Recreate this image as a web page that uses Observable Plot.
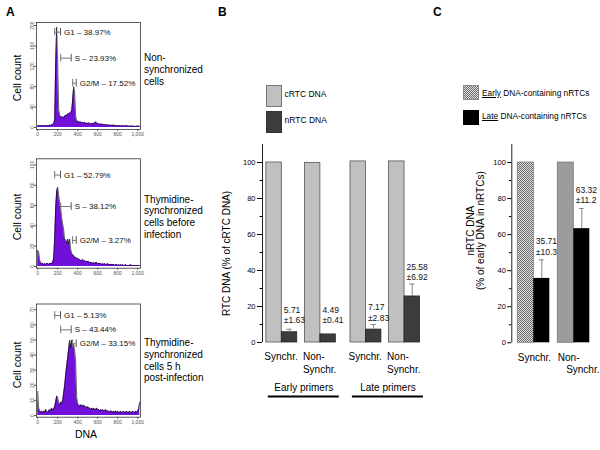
<!DOCTYPE html>
<html><head><meta charset="utf-8">
<script src="https://cdn.jsdelivr.net/npm/d3@7"></script>
<script src="https://cdn.jsdelivr.net/npm/@observablehq/plot@0.6"></script>
<style>
body{margin:0;background:#fff;}
#root{position:relative;width:600px;height:450px;overflow:hidden;background:#fff;font-family:"Liberation Sans",Arial,sans-serif;color:#000;}
#root svg{position:absolute;left:0;top:0;}
.t{position:absolute;white-space:nowrap;}
.box{position:absolute;box-sizing:border-box;}
</style></head><body><div id="root"></div>
<script>
// ---------------- DATA ----------------
const dnaChannels = [0,10,20,30,40,50,60,70,80,90,100,110,120,130,140,150,160,170,180,190,200,210,220,230,240,250,260,270,280,290,300,310,320,330,340,350,360,370,380,390,400,410,420,430,440,450,460,470,480,490,500,510,520,530,540,550,560,570,580,590,600,610,620,630,640,650,660,670,680,690,700,710,720,730,740,750,760,770,780,790,800,810,820,830,840,850,860,870,880,890,900,910,920,930,940,950,960,970,980,990,1000,1010,1020];
const countsNonSync = [3,4,3,4,3,4,3,4,3,4, 4,3,5,4,5,6,8,14,127,197, 127,35,24,21,20,21,19,22,24,23, 27,26,28,30,32,55,80,68,22,12, 12,11,10,11,9,10,9,10,8,9, 8,9,8,7,8,7,8,9,11,9, 8,7,7,6,7,6,6,5,6,5, 5,5,4,5,4,4,5,4,4,3, 4,3,4,3,3,4,3,3,3,4, 3,3,2,3,3,2,3,2,2,3, 2,3,2];
const countsThyBefore = [16,14,6,4,3,3,2,3,2,3, 3,2,3,3,3,4,8,28,58,74, 78,70,62,57,48,42,36,27,26,23, 27,22,27,17,13,11,11,9,9,8, 8,7,7,6,6,7,5,6,5,5, 5,5,4,4,4,3,4,3,4,4, 3,3,3,3,2,3,2,3,2,2, 3,2,2,2,2,2,2,1,2,2, 1,2,1,2,1,2,1,1,2,1, 1,1,1,2,1,1,1,1,1,1, 1,1,1];
const countsThyAfter = [16,5,3,2,3,2,3,2,4,3, 2,3,4,3,5,4,4,6,9,13, 12,8,7,9,8,10,15,20,27,33, 38,44,50,45,50,46,47,43,35,12, 8,7,6,7,7,6,7,6,6,5, 6,5,5,4,5,4,5,4,4,5, 4,4,3,4,3,4,3,3,4,3, 3,3,2,3,3,2,3,2,3,2, 3,2,2,3,2,2,3,2,2,3, 2,2,3,2,2,3,2,2,3,2, 3,4,9];
const gateNames = ["G1", "S", "G2/M"];
const gateStart = [170, 230, 350];
const gateEnd = [228, 335, 385];
const gatePctNonSync = [38.97, 23.93, 17.52];
const gatePctBefore = [52.79, 38.12, 3.27];
const gatePctAfter = [5.13, 43.44, 33.15];
const histTicksX = [0, 200, 400, 600, 800, 1000];

const primerSets = ["Early primers", "Late primers"];
const conditions = ["Synchr.", "Non-\nSynchr."];
const cRTC = [100, 99.8, 100.6, 100.6];      // order: early synchr, early non, late synchr, late non
const nRTC = [5.71, 4.49, 7.17, 25.58];
const nRTCsd = [1.63, 0.41, 2.83, 6.92];

const cEarly = [100, 100];
const cLate = [35.71, 63.32];
const cLateSd = [10.3, 11.2];

const yTicksPct = [0, 20, 40, 60, 80, 100];
const yMinorPct = [10, 30, 50, 70, 90];

// ---------------- LAYOUT ----------------
const W = 600, H = 450;
const FONT = '"Liberation Sans", Arial, sans-serif';
const root = document.getElementById("root");
const baseStyle = {background: "transparent", fontFamily: FONT, overflow: "visible"};
function add(svg) { root.appendChild(svg); return svg; }
function text(html, o) {
  const d = document.createElement("div");
  d.className = "t";
  d.innerHTML = html;
  const size = o.size || 10, lh = o.lh || size * 1.17;
  d.style.fontSize = size + "px";
  d.style.lineHeight = lh + "px";
  if (o.bold) d.style.fontWeight = "bold";
  d.style.left = o.x + "px";
  if (o.rotate) {
    d.style.top = o.y + "px";
    d.style.transform = "translate(-50%,-50%) rotate(-90deg)";
    d.style.textAlign = "center";
  } else {
    d.style.top = (o.y - lh / 2) + "px";
    if (o.anchor === "middle") d.style.transform = "translateX(-50%)";
  }
  root.appendChild(d);
}
function box(x, y, w, h, bg, border) {
  const d = document.createElement("div");
  d.className = "box";
  Object.assign(d.style, {left: x + "px", top: y + "px", width: w + "px", height: h + "px", background: bg, border: border});
  root.appendChild(d);
}

// ---------------- PANEL A: histograms ----------------
const histPanels = [
  {counts: countsNonSync, pct: gatePctNonSync, top: 22, bottom: 129, yDomain: [-4, 206], yTicks: [0, 40, 80, 120, 160, 200], gateY: [187, 136, 87]},
  {counts: countsThyBefore, pct: gatePctBefore, top: 158.3, bottom: 267.7, yDomain: [-1.7, 106], yTicks: [0, 20, 40, 60, 80, 100], gateY: [90, 59, 25.6]},
  {counts: countsThyAfter, pct: gatePctAfter, top: 303.5, bottom: 416.7, yDomain: [-1.1, 73.8], yTicks: [0, 10, 20, 30, 40, 50, 60, 70], gateY: [66.2, 56.7, 47.5]}
];
histPanels.forEach(pn => {
  const rows = dnaChannels.map((x, i) => ({x, c: pn.counts[i]}));
  const k = (pn.bottom - pn.top) / (pn.yDomain[1] - pn.yDomain[0]);
  const h = 3.8 / k;
  const gates = gateNames.map((g, i) => ({x1: gateStart[i], x2: gateEnd[i], y: pn.gateY[i], label: `${g} – ${pn.pct[i].toFixed(2)}%`}));
  add(Plot.plot({
    width: W, height: H,
    marginLeft: 36, marginRight: W - 140, marginTop: pn.top, marginBottom: H - pn.bottom,
    style: baseStyle,
    x: {domain: [-12, 1028]},
    y: {domain: pn.yDomain},
    marks: [
      Plot.areaY(rows, {x: "x", y1: 0, y2: "c", fill: "#7010d8"}),
      Plot.lineY(rows, {x: "x", y: "c", stroke: "#000", strokeWidth: 0.6}),
      Plot.frame({stroke: "#333", strokeWidth: 0.8}),
      Plot.axisX({ticks: histTicksX, tickSize: 2, tickPadding: 1, fontSize: 5, color: "#555", label: null}),
      Plot.axisY({ticks: pn.yTicks, tickSize: 2, tickPadding: 1, tickRotate: -90, fontSize: 5, color: "#555", label: null}),
      Plot.ruleY(gates, {y: "y", x1: "x1", x2: "x2", stroke: "#777", strokeWidth: 1}),
      Plot.ruleX(gates, {x: "x1", y1: d => d.y - h, y2: d => d.y + h, stroke: "#777", strokeWidth: 1}),
      Plot.ruleX(gates, {x: "x2", y1: d => d.y - h, y2: d => d.y + h, stroke: "#555", strokeWidth: 1}),
      Plot.text(gates, {x: "x2", y: "y", text: "label", textAnchor: "start", dx: 3.5, fontSize: 8, fill: "#111"})
    ]
  }));
});

// ---------------- PANEL B ----------------
const bRows = [];
primerSets.forEach((s, si) => conditions.forEach((c, ci) => {
  const i = si * 2 + ci;
  bRows.push({set: s, cond: c, p: si * 2.18 + ci, c: cRTC[i], n: nRTC[i], sd: nRTCsd[i]});
}));
const bSets = primerSets.map((s, si) => ({name: s, start: si * 2.18}));
const bSvg = add(Plot.plot({
  width: W, height: H,
  marginLeft: 262, marginRight: W - 424.1, marginTop: 144, marginBottom: H - 342,
  style: baseStyle,
  x: {domain: [-0.5, 3.7], axis: null},
  y: {domain: [0, 110]},
  marks: [
    Plot.rect(bRows, {x1: d => d.p - 0.4, x2: "p", y1: 0, y2: "c", fill: "#c0c0c0", stroke: "#555", strokeWidth: 0.8}),
    Plot.rect(bRows, {x1: "p", x2: d => d.p + 0.4, y1: 0, y2: "n", fill: "#3c3c3c", stroke: "#222", strokeWidth: 0.8}),
    Plot.ruleX(bRows, {x: d => d.p + 0.2, y1: "n", y2: d => d.n + d.sd, stroke: "#888"}),
    Plot.ruleY(bRows, {y: d => d.n + d.sd, x1: d => d.p + 0.13, x2: d => d.p + 0.27, stroke: "#888"}),
    Plot.text(bRows, {x: "p", y: d => Math.max(d.n + d.sd, 8.5), text: d => `${d.n.toFixed(2)}\n±${d.sd.toFixed(2)}`, textAnchor: "start", lineAnchor: "bottom", dx: 2, dy: -4, fontSize: 8.5, lineHeight: 1.2, fill: "#111"}),
    Plot.ruleX([-0.5], {y1: 0, y2: 110, stroke: "#222"}),
    Plot.axisY({ticks: yTicksPct, tickSize: 5, tickPadding: 2, fontSize: 7.5, label: null}),
    Plot.axisY({ticks: yMinorPct, tickSize: 2.5, tickFormat: () => "", label: null}),
    Plot.text(bRows, {x: d => d.p - 0.4, y: () => 0, text: "cond", textAnchor: "start", lineAnchor: "top", dx: -2, dy: 9, fontSize: 10, lineHeight: 1.23}),
    Plot.ruleY(bSets, {y: () => 0, x1: d => d.start - 0.35, x2: d => d.start + 1.49, dy: 54, strokeWidth: 2, stroke: "#000"}),
    Plot.text(bSets, {x: d => d.start + 0.57, y: () => 0, text: "name", dy: 45, fontSize: 10}),
    Plot.text(["RTC DNA (% of cRTC DNA)"], {frameAnchor: "left", textAnchor: "middle", rotate: -90, dx: -35.5, dy: 10, fontSize: 10})
  ]
}));

// ---------------- PANEL C ----------------
const cRows = conditions.map((c, i) => ({cond: c, p: i, e: cEarly[i], l: cLate[i], sd: cLateSd[i], i}));
const cSvg = add(Plot.plot({
  width: W, height: H,
  marginLeft: 511.3, marginRight: W - 597.3, marginTop: 144, marginBottom: H - 342.3,
  style: baseStyle,
  x: {domain: [-0.55, 1.6], axis: null},
  y: {domain: [0, 110]},
  marks: [
    Plot.rect(cRows, {x1: d => d.p - 0.4, x2: "p", y1: 0, y2: "e", fill: d => d.i === 0 ? "url(#chk)" : "#9c9c9c", stroke: "#777", strokeWidth: 0.8}),
    Plot.rect(cRows, {x1: "p", x2: d => d.p + 0.4, y1: 0, y2: "l", fill: "#000"}),
    Plot.ruleX(cRows, {x: d => d.p + 0.2, y1: "l", y2: d => d.l + d.sd, stroke: "#888"}),
    Plot.ruleY(cRows, {y: d => d.l + d.sd, x1: d => d.p + 0.14, x2: d => d.p + 0.26, stroke: "#888"}),
    Plot.text(cRows, {x: "p", y: d => d.l + d.sd, text: d => `${d.l.toFixed(2)}\n±${d.sd}`, textAnchor: "start", lineAnchor: "bottom", dx: 2, dy: -5, fontSize: 8.5, lineHeight: 1.25, fill: "#111"}),
    Plot.ruleX([-0.55], {y1: 0, y2: 110, stroke: "#222"}),
    Plot.axisY({ticks: yTicksPct, tickSize: 4, tickPadding: 2, fontSize: 7.5, label: null}),
    Plot.axisY({ticks: yMinorPct, tickSize: 2.5, tickFormat: () => "", label: null}),
    Plot.text(cRows, {x: d => d.p - 0.4, y: () => 0, text: d => d.cond.replace("\n", "\n\u00a0\u00a0\u00a0"), textAnchor: "start", lineAnchor: "top", dx: 0, dy: 9.5, fontSize: 10, lineHeight: 1.2}),
    Plot.text(["nRTC DNA\n(% of early DNA in nRTCs)"], {frameAnchor: "left", textAnchor: "middle", rotate: -90, dx: -36, dy: -13, fontSize: 10, lineHeight: 1.05})
  ]
}));
// checker pattern for the early bar
const defs = d3.select(cSvg).insert("defs", ":first-child");
const pat = defs.append("pattern").attr("id", "chk").attr("width", 2).attr("height", 2).attr("patternUnits", "userSpaceOnUse");
pat.append("rect").attr("width", 2).attr("height", 2).attr("fill", "#e2e2e2");
pat.append("rect").attr("width", 1).attr("height", 1).attr("fill", "#6a6a6a");
pat.append("rect").attr("x", 1).attr("y", 1).attr("width", 1).attr("height", 1).attr("fill", "#6a6a6a");

// ---------------- TEXT / LEGENDS ----------------
text("A", {x: 6, y: 12, size: 12, bold: true});
text("B", {x: 218, y: 12, size: 12, bold: true});
text("C", {x: 433, y: 12, size: 12, bold: true});

text("Cell count", {x: 16.5, y: 78, size: 10.5, rotate: true});
text("Cell count", {x: 16.5, y: 217, size: 10.5, rotate: true});
text("Cell count", {x: 16.5, y: 365, size: 10.5, rotate: true});
text("DNA", {x: 86, y: 434, size: 10.5, anchor: "middle"});

text("Non-<br>synchronized<br>cells", {x: 144, y: 58.3, size: 10, lh: 11.7});
text("Thymidine-<br>synchronized<br>cells before<br>infection", {x: 144, y: 199.5, size: 10, lh: 11.8});
text("Thymidine-<br>synchronized<br>cells 5 h<br>post-infection", {x: 144, y: 343, size: 10, lh: 11.7});

box(266, 85, 15.7, 21.7, "#c0c0c0", "1px solid #777");
box(266, 111, 15.7, 22, "#3c3c3c", "1px solid #333");
text("cRTC DNA", {x: 284.5, y: 95, size: 8.5});
text("nRTC DNA", {x: 284.5, y: 121, size: 8.5});

box(463.3, 85, 15.7, 15, "repeating-conic-gradient(#6a6a6a 0% 25%, #e2e2e2 0% 50%) 0 0 / 2px 2px", "1px solid #888");
box(463.3, 110, 15.7, 15, "#000", "none");
text("<u>Early</u> DNA-containing nRTCs", {x: 482, y: 93.5, size: 8.3});
text("<u>Late</u> DNA-containing nRTCs", {x: 482, y: 117, size: 8.3});
</script></body></html>
